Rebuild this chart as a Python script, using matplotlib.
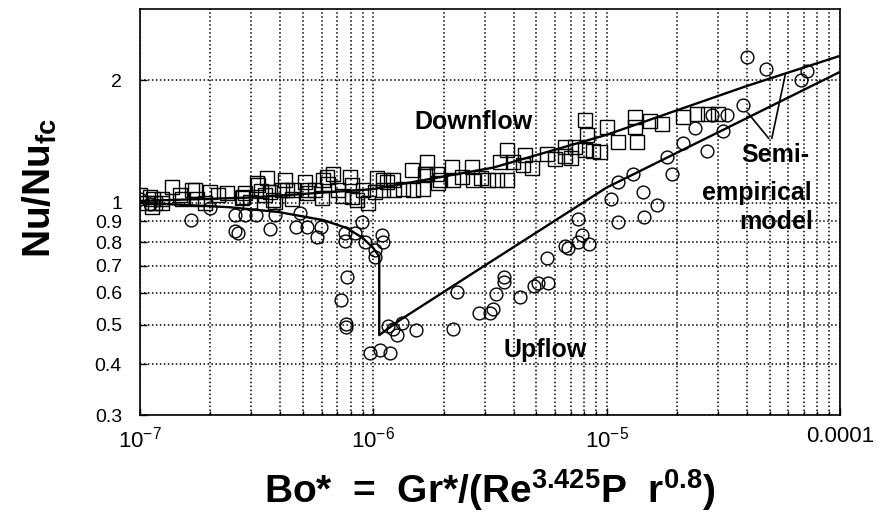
import matplotlib
matplotlib.use('Agg')
import matplotlib.pyplot as plt
from matplotlib.ticker import FixedLocator, FixedFormatter, LogLocator, NullFormatter

plt.rcParams['font.family'] = ['Liberation Sans', 'DejaVu Sans']
plt.rcParams['mathtext.fontset'] = 'custom'
plt.rcParams['mathtext.rm'] = 'Liberation Sans'
plt.rcParams['mathtext.bf'] = 'Liberation Sans:bold'
plt.rcParams['mathtext.it'] = 'Liberation Sans:italic'
plt.rcParams['mathtext.default'] = 'regular'

# ---------------- data ----------------
upflow_x = [1.0e-7, 1.1e-7, 1.66e-7, 2.0e-7, 2.55e-7, 2.62e-7, 2.55e-7, 2.82e-7, 3.14e-7,
            3.61e-7, 3.79e-7, 4.67e-7, 4.85e-7, 5.2e-7, 5.74e-7, 5.97e-7, 7.56e-7, 7.56e-7,
            8.35e-7, 8.94e-7, 9.2e-7, 1.09e-6, 1.1e-6, 1.016e-6, 1.016e-6, 7.7e-7, 7.28e-7,
            7.6e-7, 7.6e-7, 9.68e-7, 1.07e-6, 1.18e-6, 1.16e-6, 1.26e-6, 1.22e-6, 1.33e-6,
            1.52e-6, 2.2e-6, 2.29e-6, 2.84e-6, 3.16e-6, 3.26e-6, 3.36e-6, 3.63e-6, 3.63e-6,
            4.26e-6, 4.89e-6, 5.08e-6, 5.61e-6, 5.55e-6, 6.64e-6, 6.8e-6, 7.54e-6, 7.85e-6,
            8.4e-6, 7.54e-6, 1.04e-5, 1.12e-5, 1.12e-5, 1.43e-5, 1.45e-5, 1.64e-5, 1.3e-5,
            1.9e-5, 1.82e-5, 2.12e-5, 2.39e-5, 2.69e-5, 3.15e-5, 3.28e-5, 2.83e-5, 3.85e-5,
            4.0e-5, 4.82e-5, 7.2e-5, 6.8e-5]
upflow_y = [1.02, 0.99, 0.906, 0.97, 0.85, 0.84, 0.933, 0.933, 0.933,
            0.861, 0.933, 0.871, 0.943, 0.871, 0.823, 0.871, 0.842, 0.805,
            0.842, 0.896, 0.80, 0.833, 0.80, 0.765, 0.735, 0.656, 0.576,
            0.503, 0.495, 0.426, 0.434, 0.426, 0.497, 0.472, 0.49, 0.506,
            0.486, 0.489, 0.603, 0.535, 0.535, 0.547, 0.596, 0.656, 0.638,
            0.586, 0.623, 0.634, 0.634, 0.731, 0.782, 0.775, 0.80, 0.833,
            0.791, 0.912, 1.021, 1.125, 0.896, 1.063, 0.922, 0.987, 1.18,
            1.18, 1.296, 1.40, 1.528, 1.34, 1.50, 1.644, 1.644, 1.74,
            2.285, 2.135, 2.11, 2.005]

downflow_x = [1.0e-7, 1.1e-7, 1.14e-7, 1.37e-7, 1.24e-7, 1.48e-7, 1.51e-7, 1.72e-7, 1.76e-7,
              2.0e-7, 2.36e-7, 2.77e-7, 3.17e-7, 3.5e-7, 4.19e-7, 3.61e-7, 4.06e-7, 4.53e-7,
              1.07e-7, 1.16e-7, 1.13e-7, 1.24e-7, 1.67e-7, 2.16e-7, 2.74e-7, 2.82e-7, 2.97e-7,
              3.2e-7, 3.43e-7, 3.72e-7, 3.79e-7, 4.27e-7, 5.1e-7, 5.25e-7, 5.61e-7, 6.0e-7,
              6.33e-7, 6.4e-7, 7.06e-7, 7.94e-7, 8.1e-7, 8.5e-7, 9.5e-7, 9.0e-7, 1.04e-6,
              1.14e-6, 1.1e-6, 1.23e-6, 1.34e-6, 1.48e-6, 1.63e-6, 1.67e-6,
              5.2e-7, 6.1e-7, 6.7e-7, 8.1e-7, 1.1e-6, 1.22e-6, 1.47e-6, 1.7e-6, 1.7e-6,
              1.87e-6, 1.94e-6, 2.17e-6, 2.2e-6, 2.65e-6, 2.68e-6, 3.1e-6, 3.38e-6, 3.75e-6,
              3.75e-6, 3.5e-6, 3.97e-6, 4.47e-6, 4.4e-6, 4.8e-6, 5.56e-6, 6.64e-6, 6.64e-6,
              7.3e-6, 8.1e-6, 8.7e-6, 8.1e-6, 8.25e-6, 9.4e-6, 1.0e-5, 1.12e-5, 1.32e-5,
              1.32e-5, 1.35e-5, 1.53e-5, 1.72e-5, 2.12e-5, 2.44e-5, 2.72e-5, 2.99e-5,
              1.9e-7, 3.3e-7, 4.5e-7, 7.4e-7, 1.02e-6, 1.9e-6, 2.4e-6, 2.9e-6, 6.0e-6, 7.0e-6]
downflow_y = [1.045, 1.033, 1.02, 1.093, 1.02, 1.045, 1.02, 1.075, 1.02,
              1.063, 1.057, 1.033, 1.118, 1.15, 1.137, 1.063, 1.075, 1.075,
              1.0, 1.0, 0.976, 0.997, 1.075, 1.045, 1.027, 1.057, 1.004,
              1.105, 1.045, 1.016, 1.004, 1.075, 1.124, 1.075, 1.075, 1.027,
              1.157, 1.11, 1.075, 1.157, 1.105, 1.016, 0.997, 1.075, 1.15,
              1.124, 1.075, 1.075, 1.08, 1.075, 1.08, 1.18,
              1.057, 1.137, 1.18, 1.033, 1.137, 1.137, 1.204, 1.26, 1.18,
              1.18, 1.137, 1.225, 1.137, 1.225, 1.137, 1.137, 1.137, 1.137,
              1.348, 1.26, 1.257, 1.31, 1.24, 1.22, 1.32, 1.37, 1.30,
              1.37, 1.35, 1.34, 1.6, 1.468, 1.33, 1.54, 1.41, 1.625,
              1.54, 1.41, 1.59, 1.56, 1.625, 1.656, 1.656, 1.656,
              1.0, 1.07, 1.02, 1.04, 1.06, 1.12, 1.16, 1.15, 1.28, 1.29]

model_down_x = [1e-7, 3e-7, 1e-6, 3.26e-6, 1e-5, 4e-5, 1e-4]
model_down_y = [1.01, 1.03, 1.08, 1.22, 1.47, 1.94, 2.30]

model_up_x = [1e-7, 2.4e-7, 3.9e-7, 6.1e-7, 7.7e-7, 9.0e-7, 1.0e-6, 1.06e-6, 1.06e-6,
              1.3e-6, 3e-6, 1e-5, 3e-5, 1e-4]
model_up_y = [1.0, 0.975, 0.949, 0.906, 0.866, 0.819, 0.773, 0.737, 0.472,
              0.514, 0.70, 1.09, 1.49, 2.10]

x_ticks = [1e-7, 1e-6, 1e-5, 1e-4]
x_ticklabels = ['$10^{-7}$', '$10^{-6}$', '$10^{-5}$', '0.0001']
y_ticks = [0.3, 0.4, 0.5, 0.6, 0.7, 0.8, 0.9, 1.0, 2.0]
y_ticklabels = ['0.3', '0.4', '0.5', '0.6', '0.7', '0.8', '0.9', '1', '2']

# ---------------- figure ----------------
fig = plt.figure(figsize=(8.81, 5.16), dpi=100)
ax = fig.add_axes([0.1589, 0.1957, 0.7946, 0.7869])
ax.set_xscale('log')
ax.set_yscale('log')
ax.set_xlim(1e-7, 1e-4)
ax.set_ylim(0.3, 3.0)

ax.xaxis.set_major_locator(FixedLocator(x_ticks))
ax.xaxis.set_major_formatter(FixedFormatter(x_ticklabels))
ax.xaxis.set_minor_locator(LogLocator(base=10, subs=range(2, 10)))
ax.xaxis.set_minor_formatter(NullFormatter())
ax.yaxis.set_major_locator(FixedLocator(y_ticks))
ax.yaxis.set_major_formatter(FixedFormatter(y_ticklabels))
ax.yaxis.set_minor_locator(FixedLocator([]))

grid_style = dict(color='black', linestyle=(0, (1.0, 1.6)), linewidth=1.1)
ax.grid(True, which='major', axis='both', **grid_style)
ax.grid(True, which='minor', axis='x', **grid_style)
ax.set_axisbelow(True)

ax.tick_params(which='both', direction='in', top=False, right=False, width=1.0)
ax.tick_params(which='major', length=5)
ax.tick_params(which='minor', length=3)
ax.tick_params(axis='x', labelsize=16, pad=8)
ax.tick_params(axis='y', labelsize=14, pad=13)
for s in ax.spines.values():
    s.set_linewidth(1.2)
    s.set_color('black')

# model lines
ax.plot(model_down_x, model_down_y, color='black', lw=1.7, zorder=3)
ax.plot(model_up_x, model_up_y, color='black', lw=1.7, zorder=3)

# data
ax.plot(downflow_x, downflow_y, linestyle='none', marker='s', ms=9.5,
        mfc='none', mec='black', mew=1.0, zorder=4)
ax.plot(upflow_x, upflow_y, linestyle='none', marker='o', ms=9.2,
        mfc='none', mec='black', mew=1.0, zorder=4)

# annotations
tk = dict(fontsize=18, fontweight='bold', color='black')
ax.text(2.68e-6, 1.58, 'Downflow', ha='center', va='center', **tk)
ax.text(5.44e-6, 0.434, 'Upflow', ha='center', va='center', **tk)
ax.text(5.3e-5, 1.31, 'Semi-', ha='center', va='center', **tk)
ax.text(4.4e-5, 1.057, 'empirical', ha='center', va='center', **tk)
ax.text(5.3e-5, 0.896, 'model', ha='center', va='center', **tk)
ax.annotate('', xy=(4.04e-5, 1.66), xytext=(4.95e-5, 1.44),
            arrowprops=dict(arrowstyle='-', lw=1.2, color='black', shrinkA=0, shrinkB=0))
ax.annotate('', xy=(5.82e-5, 2.06), xytext=(5.1e-5, 1.44),
            arrowprops=dict(arrowstyle='-', lw=1.2, color='black', shrinkA=0, shrinkB=0))

ax.set_xlabel(r'Bo*  =  Gr*/(Re$^{\mathbf{3.425}}$P  r$^{\mathbf{0.8}}$)',
              fontsize=28, fontweight='bold')
ax.xaxis.set_label_coords(0.5, -0.128)
ax.set_ylabel(r'Nu/Nu$_{\mathbf{fc}}$', fontsize=28, fontweight='bold')
ax.yaxis.set_label_coords(-0.115, 0.56)

fig.savefig('out.png', dpi=100)
